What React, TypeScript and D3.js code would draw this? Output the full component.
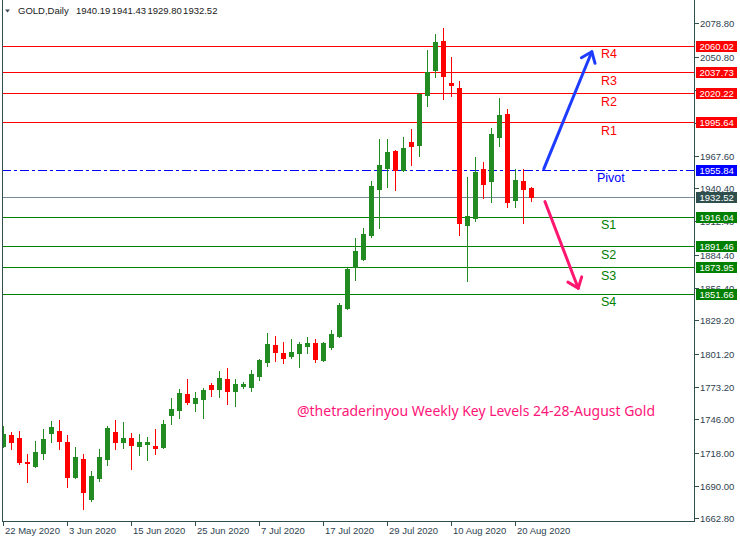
import * as d3 from "d3"

// daily bars, 22 May 2020 .. 24 Aug 2020
const dates = [
  "2020-05-22", "2020-05-25", "2020-05-26", "2020-05-27", "2020-05-28", "2020-05-29",
  "2020-06-01", "2020-06-02", "2020-06-03", "2020-06-04", "2020-06-05", "2020-06-08",
  "2020-06-09", "2020-06-10", "2020-06-11", "2020-06-12", "2020-06-15", "2020-06-16",
  "2020-06-17", "2020-06-18", "2020-06-19", "2020-06-22", "2020-06-23", "2020-06-24",
  "2020-06-25", "2020-06-26", "2020-06-29", "2020-06-30", "2020-07-01", "2020-07-02",
  "2020-07-03", "2020-07-06", "2020-07-07", "2020-07-08", "2020-07-09", "2020-07-10",
  "2020-07-13", "2020-07-14", "2020-07-15", "2020-07-16", "2020-07-17", "2020-07-20",
  "2020-07-21", "2020-07-22", "2020-07-23", "2020-07-24", "2020-07-27", "2020-07-28",
  "2020-07-29", "2020-07-30", "2020-07-31", "2020-08-03", "2020-08-04", "2020-08-05",
  "2020-08-06", "2020-08-07", "2020-08-10", "2020-08-11", "2020-08-12", "2020-08-13",
  "2020-08-14", "2020-08-17", "2020-08-18", "2020-08-19", "2020-08-20", "2020-08-21",
  "2020-08-24",
]
const opens = [
  1723.8, 1732.8, 1730.3, 1710.4, 1707.0, 1717.9, 1734.7, 1736.2, 1726.9, 1697.3,
  1712.6, 1679.3, 1696.9, 1712.6, 1735.3, 1727.2, 1730.3, 1723.8, 1725.5, 1723.6,
  1722.7, 1749.9, 1754.1, 1767.3, 1759.9, 1763.1, 1774.8, 1771.5, 1779.9, 1770.0,
  1774.0, 1773.4, 1782.6, 1794.4, 1808.4, 1801.7, 1799.5, 1802.0, 1807.8, 1810.1,
  1796.1, 1807.0, 1816.3, 1839.8, 1874.0, 1881.0, 1900.9, 1939.5, 1957.5, 1971.5,
  1955.8, 1978.9, 1976.8, 2018.8, 2039.8, 2063.9, 2028.9, 2024.4, 1909.5, 1915.4,
  1956.3, 1946.5, 1983.5, 2002.6, 1930.6, 1946.3, 1940.19,
]
const highs = [
  1740.4, 1735.6, 1736.2, 1716.8, 1727.8, 1737.8, 1744.6, 1745.4, 1732.8, 1722.7,
  1716.8, 1702.3, 1721.0, 1740.4, 1745.4, 1743.7, 1734.5, 1733.6, 1731.1, 1737.8,
  1745.4, 1763.9, 1771.5, 1779.9, 1768.9, 1772.3, 1776.5, 1786.6, 1789.1, 1779.9,
  1777.3, 1787.4, 1796.7, 1818.5, 1816.0, 1811.0, 1813.5, 1811.0, 1815.2, 1813.5,
  1811.0, 1821.0, 1843.8, 1873.0, 1898.4, 1906.8, 1946.3, 1981.5, 1981.5, 1972.0,
  1983.2, 1990.0, 2020.5, 2056.4, 2069.8, 2074.8, 2050.5, 2030.3, 1949.6, 1966.7,
  1962.2, 1990.8, 2016.0, 2006.8, 1956.3, 1956.3, 1941.43,
]
const lows = [
  1722.5, 1721.0, 1708.4, 1693.6, 1706.2, 1712.6, 1726.9, 1721.0, 1689.4, 1696.4,
  1670.9, 1677.6, 1694.4, 1707.8, 1721.0, 1721.9, 1704.2, 1716.0, 1711.8, 1716.8,
  1721.9, 1742.3, 1747.3, 1759.0, 1753.0, 1747.1, 1765.6, 1764.7, 1759.1, 1757.4,
  1772.5, 1770.0, 1779.0, 1791.0, 1795.2, 1793.6, 1797.8, 1790.2, 1802.0, 1794.4,
  1795.2, 1805.1, 1815.4, 1839.0, 1863.1, 1880.0, 1899.2, 1906.8, 1941.2, 1938.7,
  1954.9, 1960.0, 1967.5, 2009.5, 2033.9, 2015.4, 2018.0, 1901.1, 1862.5, 1912.9,
  1932.2, 1928.9, 1976.0, 1924.7, 1924.7, 1911.2, 1929.80,
]
const closes = [
  1733.6, 1727.2, 1710.4, 1709.0, 1718.5, 1729.4, 1739.5, 1727.8, 1697.8, 1714.1,
  1685.2, 1698.1, 1714.1, 1738.7, 1727.2, 1730.3, 1724.4, 1726.9, 1726.9, 1722.1,
  1742.0, 1754.7, 1767.9, 1760.5, 1763.9, 1770.6, 1771.7, 1780.7, 1770.0, 1775.7,
  1775.7, 1784.1, 1795.8, 1809.3, 1802.8, 1797.8, 1802.6, 1809.3, 1810.1, 1796.9,
  1810.1, 1817.7, 1842.1, 1872.3, 1887.5, 1901.7, 1942.1, 1959.7, 1970.6, 1955.8,
  1974.0, 1975.9, 2019.6, 2037.6, 2062.8, 2034.8, 2027.2, 1911.2, 1916.9, 1953.8,
  1944.0, 1985.8, 2001.7, 1928.9, 1947.1, 1939.8, 1932.52,
]

const levelNames = ["R4", "R3", "R2", "R1", "Pivot", "S1", "S2", "S3", "S4"]
const levelValues = [2060.02, 2037.73, 2020.22, 1995.64, 1955.84, 1916.04, 1891.46, 1873.95, 1851.66]
const lastPrice = 1932.52

const priceTicks = [
  2078.8, 2050.8, 2022.8, 1995.2, 1967.6, 1940.4, 1912.4, 1884.4,
  1856.4, 1829.2, 1801.2, 1773.2, 1746.0, 1718.0, 1690.0, 1662.8,
]
const dateTickIdx = [0, 8, 16, 24, 32, 40, 48, 56, 64]
const dateTickLabels = [
  "22 May 2020", "3 Jun 2020", "15 Jun 2020", "25 Jun 2020", "7 Jul 2020",
  "17 Jul 2020", "29 Jul 2020", "10 Aug 2020", "20 Aug 2020",
]
const headerSymbol = "GOLD,Daily"
const headerValues = ["1940.19", "1941.43", "1929.80", "1932.52"]
const caption = "@thetraderinyou Weekly Key Levels 24-28-August Gold"

// arrows drawn on the chart, in (bar index, price)
const upArrow = [[67.6, 1956.5], [73.6, 2054.9]]
const downArrow = [[67.75, 1928.9], [71.9, 1856.1]]

const W = 740
const H = 542
const frameLeft = 2
const frameRight = 694
const frameBottom = 521
const axisFont = "'Liberation Sans', Arial, sans-serif"

const GREEN = "#228b22"
const RED = "#ff0000"
const FRAME = "#2f4f4f"

function levelColor(i: number) {
  if (i < 4) return RED
  if (i === 4) return "#0000ff"
  return "#008000"
}

function arrowHead(x1: number, y1: number, x2: number, y2: number) {
  const a = Math.atan2(y1 - y2, x1 - x2)
  const len = 12
  const spread = (38 * Math.PI) / 180
  const p1 = [x2 + len * Math.cos(a + spread), y2 + len * Math.sin(a + spread)]
  const p2 = [x2 + len * Math.cos(a - spread), y2 + len * Math.sin(a - spread)]
  return `M${p1[0]},${p1[1]}L${x2},${y2}L${p2[0]},${p2[1]}`
}

export default function App() {
  const x = d3.scaleLinear().domain([0, dates.length - 1]).range([3, 531])
  const y = d3.scaleLinear().domain([1662.8, 2078.8]).range([518.3, 23.3])

  const arrows = [
    { pts: upArrow, color: "#1e3cff" },
    { pts: downArrow, color: "#ff1670" },
  ]

  return (
    <svg
      width={W}
      height={H}
      style={{ position: "absolute", left: 0, top: 0, background: "#fff" }}
    >
      <defs>
        <clipPath id="plot">
          <rect x={frameLeft + 1} y={0} width={frameRight - frameLeft - 1} height={frameBottom} />
        </clipPath>
      </defs>
      <rect width={W} height={H} fill="#fff" />

      {/* level lines */}
      <g clipPath="url(#plot)">
        {levelValues.map((v, i) => (
          <line
            key={levelNames[i]}
            x1={frameLeft}
            x2={frameRight}
            y1={Math.round(y(v)) + 0.5}
            y2={Math.round(y(v)) + 0.5}
            stroke={levelColor(i)}
            strokeWidth={1}
            strokeDasharray={i === 4 ? "9,3,3,3" : undefined}
          />
        ))}
        <line
          x1={frameLeft}
          x2={frameRight}
          y1={Math.round(y(lastPrice)) + 0.5}
          y2={Math.round(y(lastPrice)) + 0.5}
          stroke="#778899"
          strokeWidth={1}
        />

        {/* candles */}
        {dates.map((d, i) => {
          const o = opens[i]
          const c = closes[i]
          const up = c >= o
          const col = up ? GREEN : RED
          const cx = Math.round(x(i))
          const top = Math.round(y(Math.max(o, c)))
          const bot = Math.round(y(Math.min(o, c)))
          return (
            <g key={d}>
              <line
                x1={cx + 0.5}
                x2={cx + 0.5}
                y1={Math.round(y(highs[i]))}
                y2={Math.round(y(lows[i])) + 1}
                stroke={col}
                strokeWidth={1}
              />
              <rect x={cx - 2} y={top} width={5} height={Math.max(2, bot - top + 1)} fill={col} />
            </g>
          )
        })}

        {/* level names */}
        {levelValues.map((v, i) => (
          <text
            key={"t" + levelNames[i]}
            x={i === 4 ? 597 : 601}
            y={y(v) + 12.5}
            fontFamily={axisFont}
            fontSize={12.5}
            fill={levelColor(i)}
          >
            {levelNames[i]}
          </text>
        ))}

        {/* arrows */}
        {arrows.map((a, k) => {
          const x1 = x(a.pts[0][0])
          const y1 = y(a.pts[0][1])
          const x2 = x(a.pts[1][0])
          const y2 = y(a.pts[1][1])
          return (
            <g key={k} stroke={a.color} strokeWidth={3} fill="none" strokeLinecap="round" strokeLinejoin="round">
              <line x1={x1} y1={y1} x2={x2} y2={y2} />
              <path d={arrowHead(x1, y1, x2, y2)} />
            </g>
          )
        })}

        <text
          x={297}
          y={415.5}
          fontFamily="'Noto Sans', 'Open Sans', sans-serif"
          fontSize={15}
          fill="#ff1478"
          textLength={358}
          lengthAdjust="spacingAndGlyphs"
        >
          {caption}
        </text>
      </g>

      {/* frame */}
      <line x1={frameLeft + 0.5} x2={frameLeft + 0.5} y1={0} y2={frameBottom + 1} stroke={FRAME} />
      <line x1={frameRight + 0.5} x2={frameRight + 0.5} y1={0} y2={frameBottom + 1} stroke={FRAME} />
      <line x1={frameLeft} x2={frameRight + 1} y1={frameBottom + 0.5} y2={frameBottom + 0.5} stroke={FRAME} />

      {/* price axis */}
      {priceTicks.map((p) => {
        const ty = Math.round(y(p)) + 0.5
        return (
          <g key={p}>
            <line x1={frameRight + 1} x2={frameRight + 5} y1={ty} y2={ty} stroke={FRAME} />
            <text x={700} y={ty + 3.5} fontFamily={axisFont} fontSize={9.5} fill="#2f3f4f">
              {p.toFixed(2)}
            </text>
          </g>
        )
      })}

      {/* price tags */}
      {[...levelValues.map((v, i) => ({ v, col: levelColor(i) })), { v: lastPrice, col: FRAME }].map((t) => {
        const ty = Math.round(y(t.v))
        return (
          <g key={"tag" + t.v}>
            <rect x={696} y={ty - 5} width={41} height={11} fill={t.col} />
            <text x={699.5} y={ty + 4} fontFamily={axisFont} fontSize={9.5} fill="#fff">
              {t.v.toFixed(2)}
            </text>
          </g>
        )
      })}

      {/* date axis */}
      {dateTickIdx.map((idx, k) => {
        const tx = Math.round(x(idx)) + 0.5
        return (
          <g key={idx}>
            <line x1={tx} x2={tx} y1={frameBottom + 1} y2={frameBottom + 5} stroke={FRAME} />
            <text x={tx + 1.5} y={534} fontFamily={axisFont} fontSize={9.5} fill="#2f3f4f">
              {dateTickLabels[k]}
            </text>
          </g>
        )
      })}

      {/* header */}
      <path d="M5,9.5L10,9.5L7.5,12.5Z" fill="#3a4a5a" />
      <text x={18} y={14} fontFamily={axisFont} fontSize={9.5} fill="#1a1a1a">
        {headerSymbol}
      </text>
      {headerValues.map((v, i) => (
        <text key={v} x={76 + i * 35.7} y={14} fontFamily={axisFont} fontSize={9.5} fill="#1a1a1a">
          {v}
        </text>
      ))}
    </svg>
  )
}
